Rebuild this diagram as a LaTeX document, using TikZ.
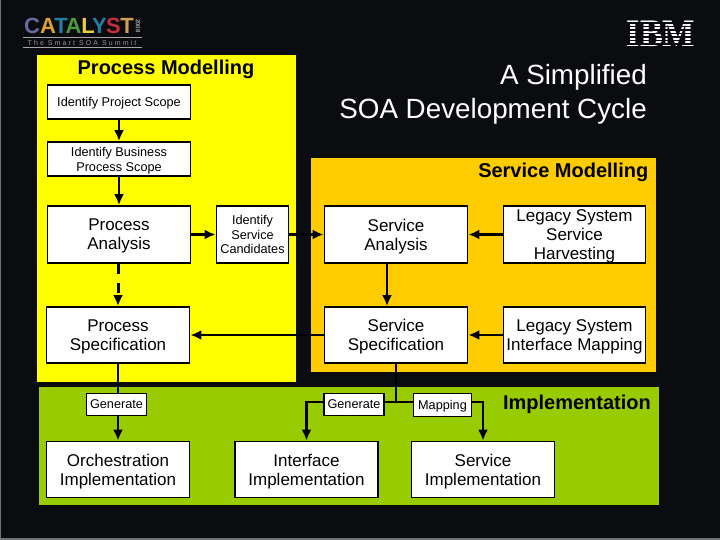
\documentclass[tikz,border=0pt]{standalone}
\usepackage{graphicx}
\usepackage{fontspec}
\setmainfont{Liberation Sans}
\newfontfamily\serifbold{Liberation Serif}
\usetikzlibrary{arrows.meta}
\definecolor{slidebg}{HTML}{0A0C0F}
\definecolor{procyellow}{HTML}{FFFF00}
\definecolor{servorange}{HTML}{FFCC00}
\definecolor{implgreen}{HTML}{99CC00}
\definecolor{edgegray}{HTML}{707274}
\definecolor{logopurple}{HTML}{6B68A0}
\definecolor{logoamber}{HTML}{E0A030}
\definecolor{logoteal}{HTML}{2080A4}
\definecolor{logogreen}{HTML}{4A9A40}
\definecolor{logoyellow}{HTML}{E8D040}
\definecolor{logored}{HTML}{C03040}
\definecolor{logotan}{HTML}{D0A050}
\tikzset{
  stagebox/.style={draw=black,fill=white,line width=1.8pt,align=center,inner sep=0pt,
    text depth=-2.5pt,
    font=\fontsize{17}{19.2}\selectfont},
  smallbox/.style={stagebox,text depth=-1pt,font=\fontsize{12.7}{15}\selectfont},
  flow/.style={line width=2.2pt,-{Latex[length=11pt,width=10pt]}},
  plain/.style={line width=2.2pt},
  heading/.style={inner sep=0pt,font=\bfseries\fontsize{20}{22}\selectfont}
}
\newcommand{\logoletter}[3]{\node[inner sep=0pt,anchor=base,text=#2,font=\bfseries\fontsize{22}{22}\selectfont] (logo#3) at (#3,34) {#1};}
\begin{document}
\begin{tikzpicture}[x=1pt,y=-1pt]
    \useasboundingbox (0,0) rectangle (720,540);
    \fill[edgegray] (0,0) rectangle (720,540);
    \fill[slidebg] (1,0) rectangle (720,538);
    % panels
    \fill[procyellow] (37,55) rectangle (296,382);
    \fill[servorange] (311,158) rectangle (656,372);
    \fill[implgreen] (39,387) rectangle (659,505);
    % logo
    \logoletter{C}{logopurple}{32}
    \logoletter{A}{logoamber}{48}
    \logoletter{T}{logoteal}{61}
    \logoletter{A}{logogreen}{73.5}
    \logoletter{L}{logoyellow}{88}
    \logoletter{Y}{logoteal}{99.5}
    \logoletter{S}{logored}{113.5}
    \logoletter{T}{logotan}{127}
    \node[inner sep=0pt,text=gray!70,rotate=-90,font=\bfseries\fontsize{6}{6}\selectfont] (logoyear) at (138,26) {2008};
    \coordinate (rulea) at (23,37.7);
    \coordinate (ruleb) at (142,37.7);
    \coordinate (rulec) at (23,47.3);
    \coordinate (ruled) at (142,47.3);
    \draw[gray!70,line width=.5pt] (rulea) -- (ruleb);
    \draw[gray!70,line width=.5pt] (rulec) -- (ruled);
    \node[inner sep=0pt,text=gray!80,font=\fontsize{7}{7}\selectfont\addfontfeatures{LetterSpace=30}] (logotag) at (82,42.7) {The Smart SOA Summit};
    % IBM
    \node[inner sep=0pt,text=white,anchor=base,font=\serifbold\bfseries\fontsize{39}{39}\selectfont] (ibm) at (661,46.7) {\scalebox{.88}[1]{IBM}};
    \foreach \y in {23,26.5,30,33.5,37,40.5,44}{
      \coordinate (stripel) at (625,\y);
      \coordinate (striper) at (698,\y);
      \draw[slidebg,line width=1.3pt] (stripel) -- (striper);
    }
    % titles
    \node[heading,anchor=center] (processtitle) at (166,69.5) {Process Modelling};
    \node[heading,anchor=east] (servicetitle) at (648.5,172.5) {Service Modelling};
    \node[heading,anchor=east] (impltitle) at (651,404) {Implementation};
    \node[inner sep=0pt,text=white,align=right,anchor=east,font=\fontsize{27.8}{34}\selectfont] (cycletitle) at (647,94) {A Simplified\\SOA Development Cycle};
    % boxes
    \node[smallbox,minimum width=143pt,minimum height=34pt] (projectscope) at (119,102) {Identify Project Scope};
    \node[smallbox,minimum width=143pt,minimum height=34pt] (businessscope) at (119,159) {Identify Business\\Process Scope};
    \node[stagebox,minimum width=143pt,minimum height=57pt] (processanalysis) at (119,234.5) {Process\\Analysis};
    \node[smallbox,font=\fontsize{12.7}{14.5}\selectfont,minimum width=72pt,minimum height=57pt] (candidates) at (252.5,234.5) {Identify\\Service\\Candidates};
    \node[stagebox,minimum width=143pt,minimum height=57pt] (serviceanalysis) at (396,234.5) {Service\\Analysis};
    \node[stagebox,minimum width=142pt,minimum height=57pt] (harvesting) at (574.5,234.5) {Legacy System\\Service\\Harvesting};
    \node[stagebox,text depth=-4pt,minimum width=143pt,minimum height=56pt] (processspec) at (118,335) {Process\\Specification};
    \node[stagebox,text depth=-4pt,minimum width=143pt,minimum height=56pt] (servicespec) at (396,335) {Service\\Specification};
    \node[stagebox,minimum width=142pt,minimum height=56pt] (interfacemap) at (574.5,335) {Legacy System\\Interface Mapping};
    \node[smallbox,minimum width=60pt,minimum height=22pt] (genorch) at (116.5,404.5) {Generate};
    \node[smallbox,minimum width=60pt,minimum height=22pt] (geninterface) at (354,404.5) {Generate};
    \node[smallbox,minimum width=58pt,minimum height=23pt] (mapping) at (442.5,405) {Mapping};
    \node[stagebox,minimum width=143pt,minimum height=56pt] (orchimpl) at (118,469.5) {Orchestration\\Implementation};
    \node[stagebox,minimum width=143pt,minimum height=56pt] (interfaceimpl) at (306.5,469.5) {Interface\\Implementation};
    \node[stagebox,minimum width=143pt,minimum height=56pt] (serviceimpl) at (483,469.5) {Service\\Implementation};
    % connectors
    \draw[flow] (projectscope) -- (businessscope);
    \draw[flow] (businessscope) -- (processanalysis.north -| businessscope);
    \draw[flow,line width=3pt] (processanalysis) -- (candidates);
    \draw[flow,line width=3pt] (candidates) -- (serviceanalysis);
    \draw[flow,line width=3pt] (harvesting) -- (serviceanalysis);
    \draw[flow,line width=3pt,dash pattern=on 10pt off 9pt] (processanalysis.south -| processspec) -- (processspec);
    \coordinate (specdrop) at (387,263);
    \draw[flow] (specdrop) -- (specdrop |- servicespec.north);
    \draw[flow] (servicespec) -- (processspec);
    \draw[flow] (interfacemap) -- (servicespec);
    \draw[plain] (processspec.south) -- (processspec.south |- genorch.north);
    \draw[flow] (genorch.south -| orchimpl) -- (orchimpl);
    \coordinate (splitpoint) at (396,402);
    \draw[plain] (servicespec) -- (splitpoint);
    \draw[plain] (geninterface.east |- splitpoint) -- (mapping.west |- splitpoint);
    \draw[flow] (geninterface.west |- splitpoint) -| (interfaceimpl);
    \draw[flow] (mapping.east |- splitpoint) -| (serviceimpl);
\end{tikzpicture}
\end{document}
